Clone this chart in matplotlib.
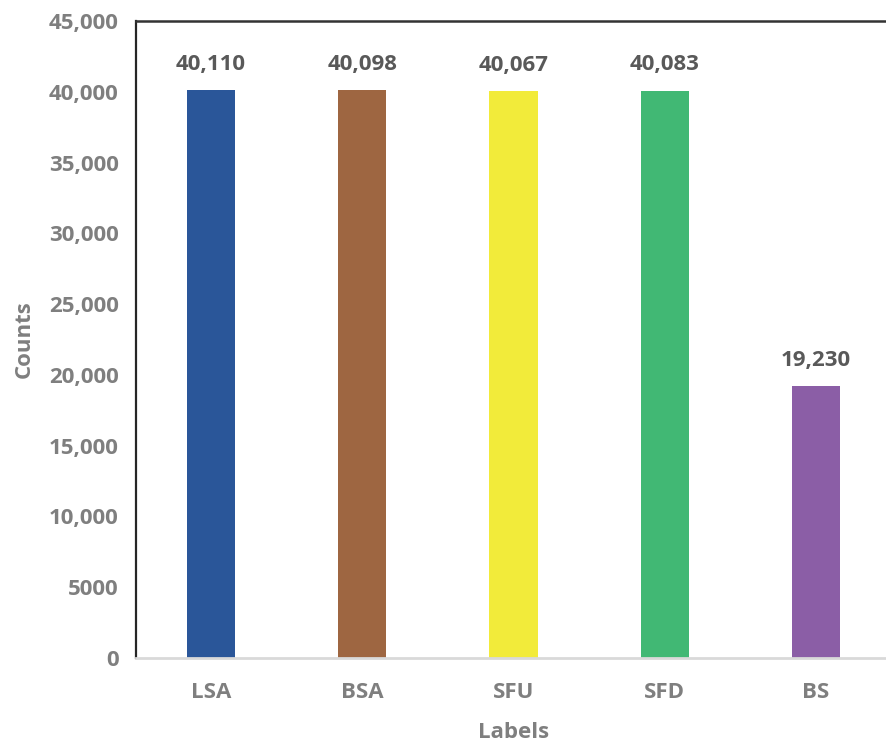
import matplotlib
matplotlib.use("Agg")
import matplotlib.pyplot as plt
from matplotlib.ticker import FixedLocator

categories = ["LSA", "BSA", "SFU", "SFD", "BS"]
counts = [40110, 40098, 40067, 40083, 19230]
colors = ["#2a5699", "#9e6641", "#f2eb3a", "#41b874", "#8b5ea6"]
ytick_values = [0, 5000, 10000, 15000, 20000, 25000, 30000, 35000, 40000, 45000]
ytick_labels = ["0", "5000", "10,000", "15,000", "20,000", "25,000",
                "30,000", "35,000", "40,000", "45,000"]

plt.rcParams["font.family"] = ["Open Sans", "DejaVu Sans"]
plt.rcParams["font.weight"] = "bold"
FS = 16

W, H = 886, 742
fig = plt.figure(figsize=(W / 100, H / 100), dpi=100)
left, right = 135.5, 891.5
top, bottom = 21, 658
ax = fig.add_axes([left / W, (H - bottom) / H, (right - left) / W, (bottom - top) / H])

x = list(range(len(categories)))
ax.bar(x, counts, width=0.32, color=colors, zorder=2)
ax.set_xlim(-0.5, len(categories) - 0.5)
ax.set_ylim(0, 45000)

for xi, v in zip(x, counts):
    ax.annotate(f"{v:,}", (xi, v), xytext=(0, 11), textcoords="offset points",
                ha="center", va="bottom", fontsize=FS, fontweight="bold",
                color="#595959")

ax.yaxis.set_major_locator(FixedLocator(ytick_values))
ax.set_yticklabels(ytick_labels)
ax.set_xticks(x)
ax.set_xticklabels(categories)
ax.tick_params(axis="y", length=0, pad=12, labelsize=FS, labelcolor="#7f7f7f")
ax.tick_params(axis="x", length=0, pad=17, labelsize=FS, labelcolor="#7f7f7f")
for lab in ax.get_xticklabels() + ax.get_yticklabels():
    lab.set_fontweight("bold")

ax.set_xlabel("Labels", fontsize=FS, fontweight="bold", color="#7f7f7f", labelpad=14)
ax.set_ylabel("Counts", fontsize=FS, fontweight="bold", color="#7f7f7f", labelpad=10)

ax.spines["left"].set_color("#262626")
ax.spines["left"].set_linewidth(1.6)
ax.spines["top"].set_color("#333333")
ax.spines["top"].set_linewidth(1.8)
ax.spines["bottom"].set_color("#d9d9d9")
ax.spines["bottom"].set_linewidth(2.0)
ax.spines["right"].set_visible(False)

fig.savefig("out.png", dpi=100)
